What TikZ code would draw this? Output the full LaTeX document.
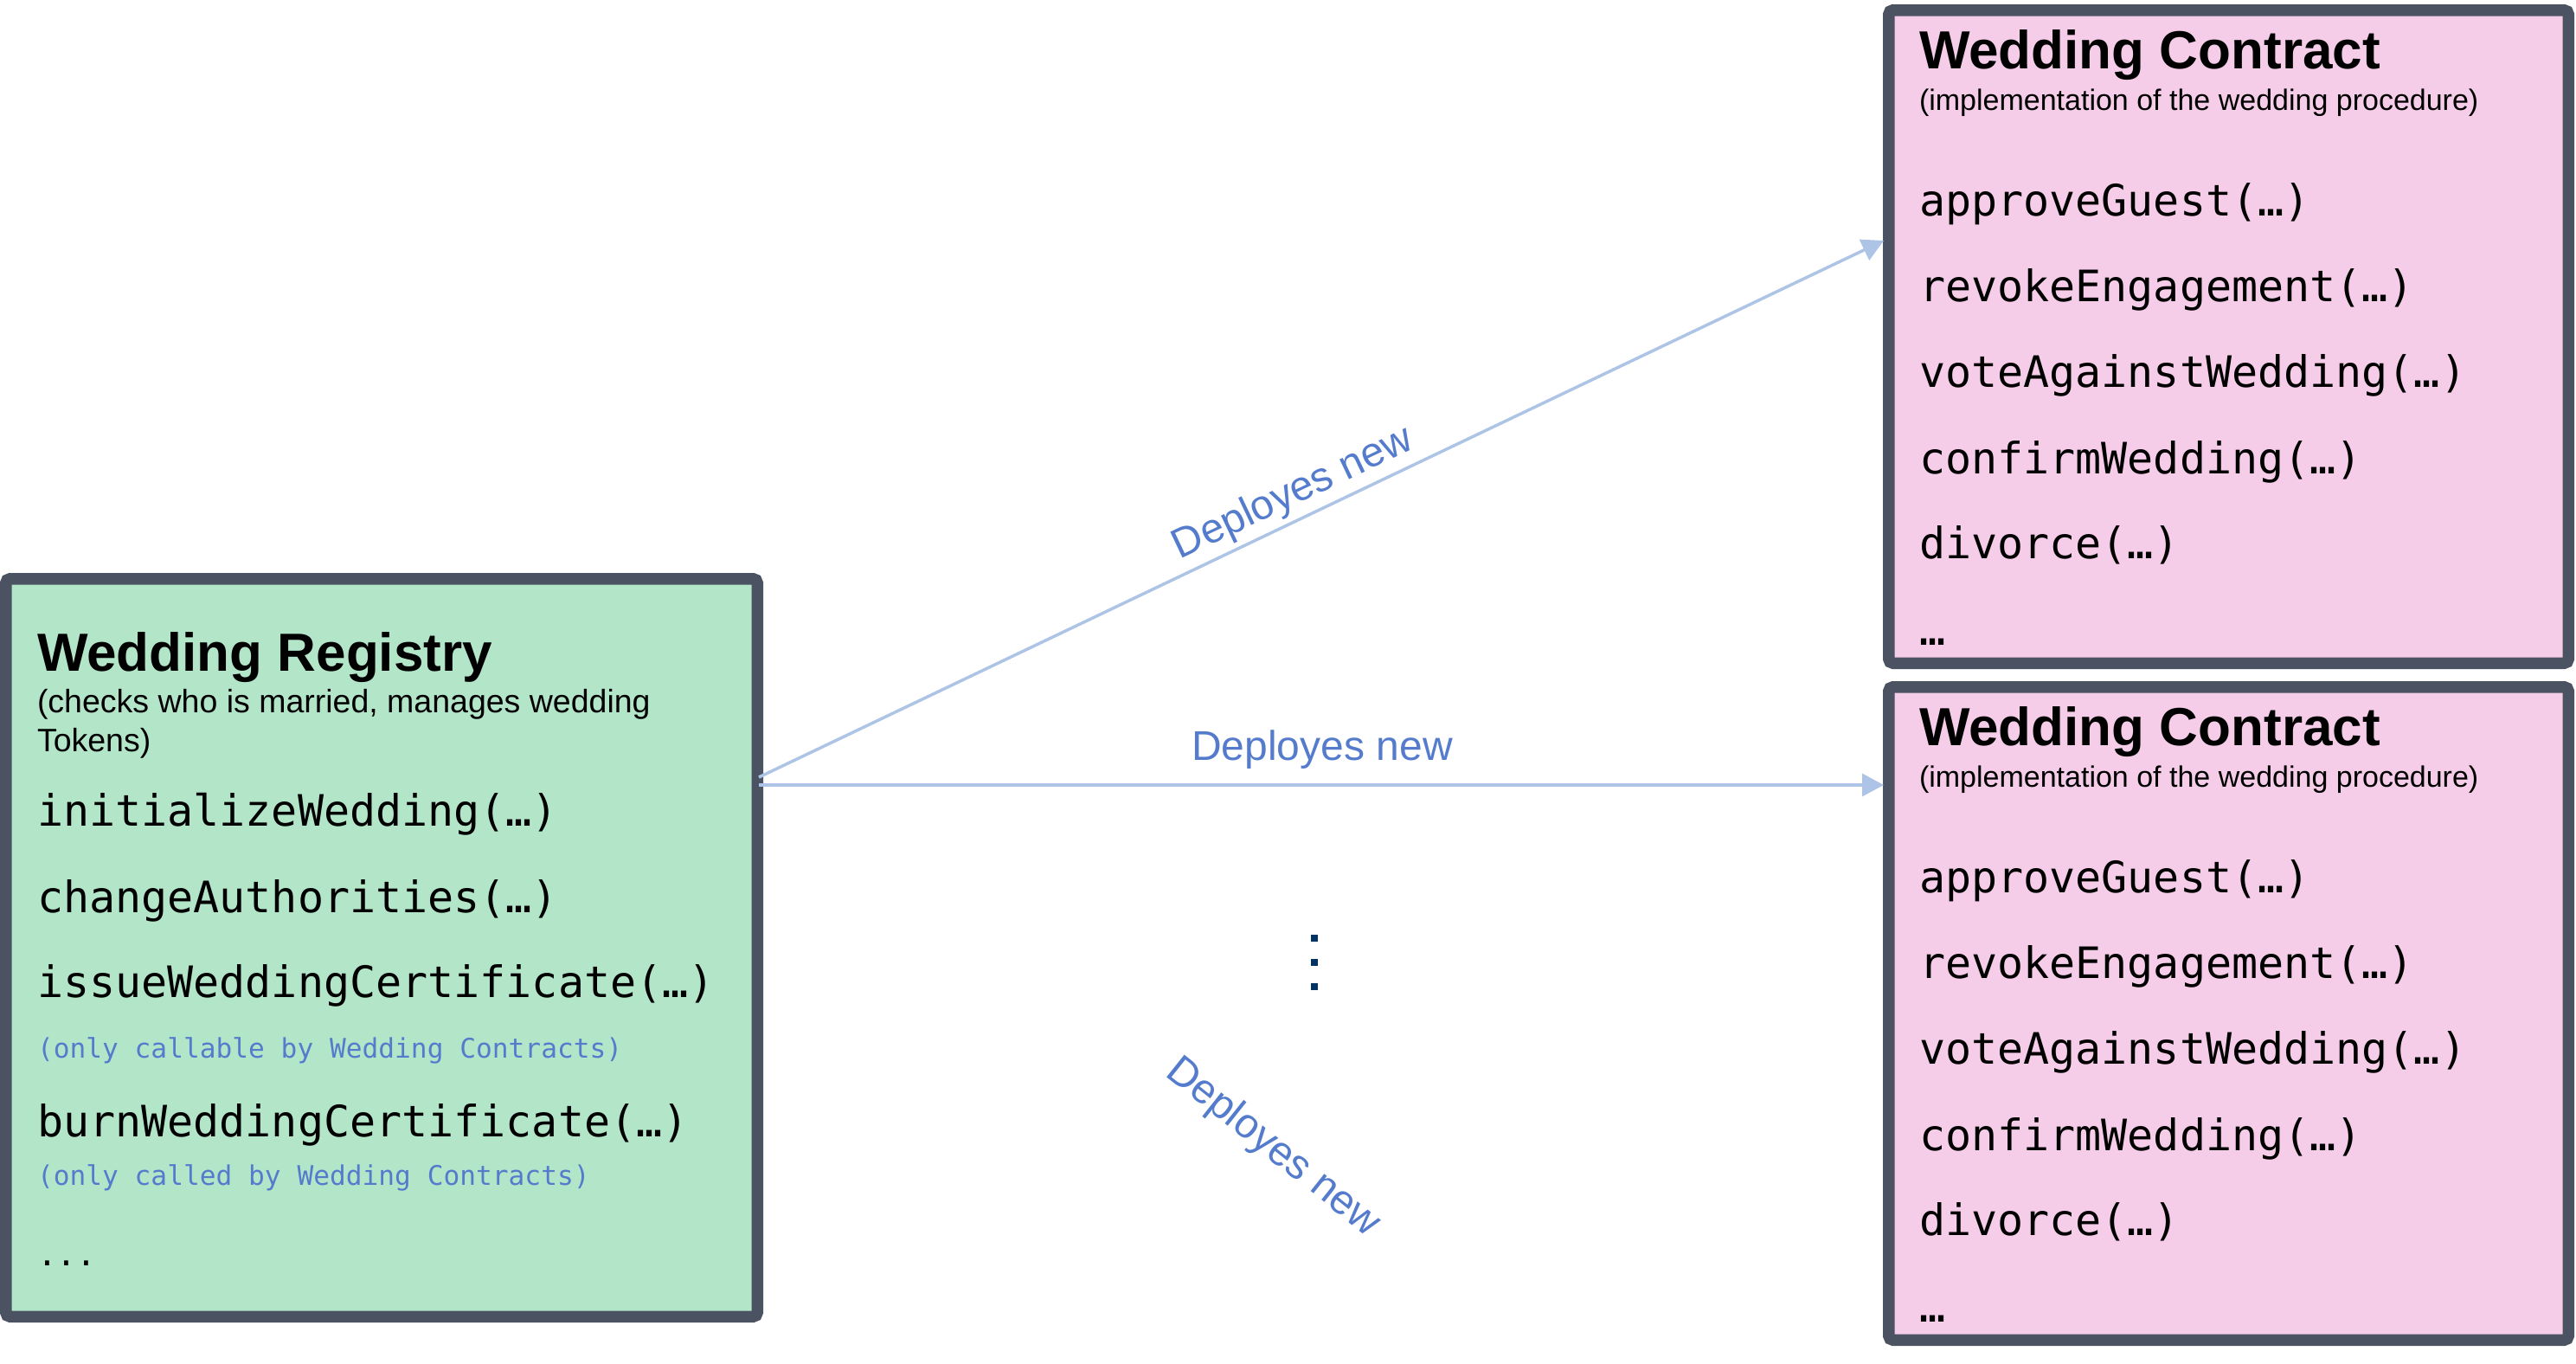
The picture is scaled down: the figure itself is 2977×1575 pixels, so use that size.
\documentclass[tikz,border=0pt]{standalone}
\usepackage{fontspec}
\setmainfont{Liberation Sans}
\newfontfamily\monof{DejaVu Sans Mono}
\usetikzlibrary{arrows.meta}
\definecolor{bordercol}{HTML}{4B5363}
\definecolor{greenfill}{HTML}{B3E6C9}
\definecolor{pinkfill}{HTML}{F6CDE9}
\definecolor{arrowcol}{HTML}{AEC4E6}
\definecolor{labelcol}{HTML}{557CCC}
\definecolor{dotcol}{HTML}{003366}
\begin{document}
\begin{tikzpicture}[x=0.5pt,y=-0.5pt,
 box/.style={draw=bordercol,line width=6.75pt,rounded corners=2.5pt,inner sep=0pt,outer sep=0pt,anchor=north west},
 txt/.style={inner sep=0pt,outer sep=0pt,anchor=base west},
 boxtitle/.style={txt,font=\bfseries\fontsize{31pt}{37pt}\selectfont},
 regsub/.style={txt,font=\fontsize{18.75pt}{22.5pt}\selectfont},
 consub/.style={txt,font=\fontsize{17pt}{20pt}\selectfont},
 code/.style={txt,font=\monof\fontsize{25pt}{30pt}\selectfont},
 note/.style={txt,text=labelcol,font=\monof\fontsize{15.6pt}{19pt}\selectfont},
 conn/.style={draw=arrowcol,line width=1.75pt,-{Triangle[length=12.5pt,width=13pt]}},
 lbl/.style={inner sep=0pt,outer sep=0pt,anchor=base,text=labelcol,font=\fontsize{24pt}{29pt}\selectfont}
]
\useasboundingbox (0,0) rectangle (2977,1575);

% Wedding Registry
\node[box,fill=greenfill,minimum width=434.25pt,minimum height=426.25pt] (reg) at (6.75,668.75) {};
\node[boxtitle] (regt) at (43,775) {Wedding Registry};
\node[regsub] (regs1) at (43,823) {(checks who is married, manages wedding};
\node[regsub] (regs2) at (43,868) {Tokens)};
\node[code] (r1) at (43,954) {initializeWedding(…)};
\node[code] (r2) at (43,1054) {changeAuthorities(…)};
\node[code] (r3) at (43,1152) {issueWeddingCertificate(…)};
\node[note] (r3n) at (43,1222) {(only callable by Wedding Contracts)};
\node[code] (r4) at (43,1313) {burnWeddingCertificate(…)};
\node[note] (r4n) at (43,1369) {(only called by Wedding Contracts)};
\node[txt,font=\monof\fontsize{19pt}{22pt}\selectfont] (r5) at (43,1462) {...};

% Wedding Contracts
\foreach \n/\dy in {1/0,2/782}{
  \node[box,fill=pinkfill,minimum width=392.75pt,minimum height=377.25pt] (wc\n) at (2182.75,11.75+\dy) {};
  \node[boxtitle] (wc\n t) at (2218,79+\dy) {Wedding Contract};
  \node[consub] (wc\n s) at (2218,127+\dy) {(implementation of the wedding procedure)};
  \node[code] (wc\n a) at (2218,249+\dy) {approveGuest(…)};
  \node[code] (wc\n b) at (2218,348+\dy) {revokeEngagement(…)};
  \node[code] (wc\n c) at (2218,447+\dy) {voteAgainstWedding(…)};
  \node[code] (wc\n d) at (2218,547+\dy) {confirmWedding(…)};
  \node[code] (wc\n e) at (2218,645+\dy) {divorce(…)};
  \node[code] (wc\n f) at (2218,745+\dy) {…};
}

% vertical dots
\fill[dotcol] (1515,1080) rectangle (1523,1088);
\fill[dotcol] (1515,1108) rectangle (1523,1116);
\fill[dotcol] (1515,1136) rectangle (1523,1144);

% connectors
\coordinate (src1) at (877,898);
\coordinate (src2) at (877,907);
\coordinate (dst1) at (2177,278);
\coordinate (dst2) at (2177,907);
\draw[conn] (src1) -- (dst1);
\draw[conn] (src2) -- (dst2);

% labels
\node[lbl,rotate=25.4] (lab1) at (1500,582) {Deployes new};
\node[lbl] (lab2) at (1528,878) {Deployes new};
\node[lbl,rotate=-38.5] (lab3) at (1463,1336) {Deployes new};
\end{tikzpicture}
\end{document}
